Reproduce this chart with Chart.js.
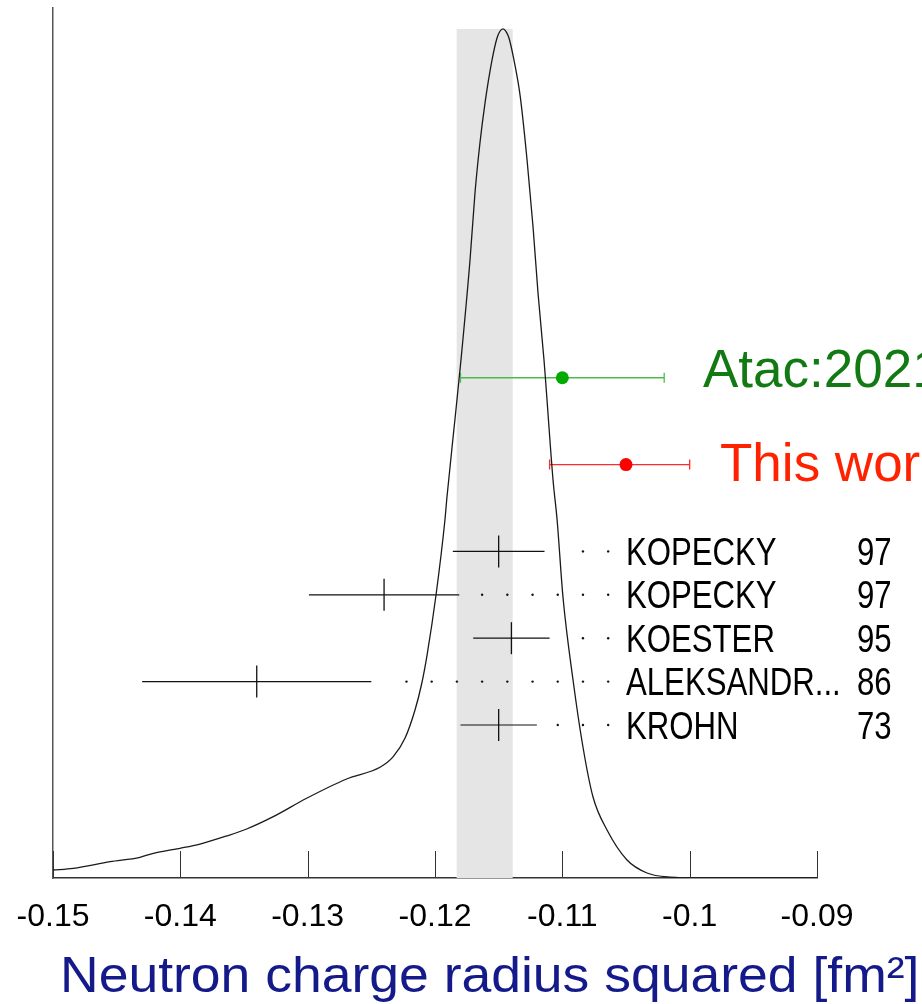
<!DOCTYPE html>
<html><head><meta charset="utf-8">
<script src="https://cdn.jsdelivr.net/npm/chart.js@4.4.1/dist/chart.umd.min.js"></script>
<style>html,body{margin:0;padding:0;background:#fff;overflow:hidden}#wrap{width:922px;height:1004px}</style>
</head><body><div id="wrap"><canvas id="c" width="922" height="1004"></canvas></div>
<script>
// ---- data ----
const xTicks = [-0.15, -0.14, -0.13, -0.12, -0.11, -0.1, -0.09];
const xTickLabels = ['-0.15', '-0.14', '-0.13', '-0.12', '-0.11', '-0.1', '-0.09'];
const axisTitle = 'Neutron charge radius squared [fm\u00B2]';

const curveX = [-0.15, -0.14841, -0.14552, -0.14317, -0.14212, -0.14003, -0.13846, -0.13636, -0.13479, -0.1327,
  -0.13008, -0.12694, -0.12432, -0.12328, -0.12236, -0.12157, -0.12105, -0.12063, -0.11992, -0.11922,
  -0.11906, -0.11843, -0.11796, -0.11725, -0.11686, -0.11647, -0.11607, -0.11552, -0.11513,
  -0.1149, -0.11466, -0.11443, -0.11419, -0.1138, -0.11332, -0.11277, -0.1123, -0.11191,
  -0.11144, -0.11073, -0.11041, -0.10995, -0.10916, -0.10838, -0.10759, -0.10649, -0.10492, -0.10335,
  -0.10155, -0.0992, -0.09];
const curveY = [0.0094, 0.0114, 0.0192, 0.0244, 0.0291, 0.035, 0.040, 0.0495, 0.0577, 0.0722,
  0.0939, 0.1166, 0.1304, 0.1429, 0.1645, 0.1979, 0.2285, 0.262, 0.3333, 0.4217,
  0.4488, 0.5406, 0.6101, 0.7279, 0.8068, 0.8657, 0.913, 0.9635, 0.9894,
  0.9973, 1.0, 0.9973, 0.9894, 0.9635, 0.9220, 0.8457, 0.7668, 0.689,
  0.6101, 0.4688, 0.4217, 0.331, 0.2332, 0.1543, 0.0954, 0.0565, 0.0212, 0.0059,
  0.001, 0.0, 0.0];

const bandLow = -0.1183;
const bandHigh = -0.1139;
const bandTop = 1.0;

const measNames = ['KOPECKY', 'KOPECKY', 'KOESTER', 'ALEKSANDR...', 'KROHN'];
const measYears = ['97', '97', '95', '86', '73'];
const measValues = [-0.115, -0.124, -0.114, -0.134, -0.115];
const measErrors = [0.0036, 0.0059, 0.003, 0.009, 0.003];
const measRows = [4, 3, 2, 1, 0];

const extraNames = ['Atac:2021', 'This work'];
const extraValues = [-0.110, -0.105];
const extraErrLow = [0.008, 0.006];
const extraErrHigh = [0.008, 0.005];
const extraRows = [8, 6];

const dotEnd = -0.1064;
const dotStep = 0.00198;
const dotGap = 0.0013;

// ---- drawing ----
const FONT = '"Liberation Sans", Arial, Helvetica, sans-serif';
const extraStyle = [
  {text: '#137a13', point: '#00aa00', bar: '#4cbb4c', labelX: 703, dy: 9},
  {text: '#ff2200', point: '#ff0000', bar: '#ff2a2a', labelX: 720, dy: 16}
];

const decor = {
  id: 'decor',
  beforeDatasetsDraw(chart) {
    const {ctx, chartArea, scales} = chart;
    const x = scales.x, y = scales.y, r = scales.rows;
    ctx.save();
    ctx.fillStyle = '#e5e5e5';
    const bx0 = x.getPixelForValue(bandLow), bx1 = x.getPixelForValue(bandHigh);
    const by = y.getPixelForValue(bandTop);
    ctx.fillRect(bx0, by, bx1 - bx0, chartArea.bottom - by);
    ctx.strokeStyle = '#333';
    ctx.lineWidth = 1;
    xTicks.forEach(v => {
      const px = Math.round(x.getPixelForValue(v)) + 0.5;
      ctx.beginPath();
      ctx.moveTo(px, chartArea.bottom);
      ctx.lineTo(px, chartArea.bottom - 27);
      ctx.stroke();
    });
    ctx.strokeStyle = '#111';
    ctx.lineWidth = 1.2;
    ctx.fillStyle = '#111';
    measValues.forEach((v, i) => {
      const py = r.getPixelForValue(measRows[i]);
      const lo = v - measErrors[i], hi = v + measErrors[i];
      ctx.beginPath();
      ctx.moveTo(x.getPixelForValue(lo), py);
      ctx.lineTo(x.getPixelForValue(hi), py);
      ctx.stroke();
      for (let d = dotEnd; d > hi + dotGap; d -= dotStep) {
        ctx.beginPath();
        ctx.arc(x.getPixelForValue(d), py, 1.2, 0, Math.PI * 2);
        ctx.fill();
      }
    });
    extraValues.forEach((v, i) => {
      const py = r.getPixelForValue(extraRows[i]);
      const x0 = x.getPixelForValue(v - extraErrLow[i]);
      const x1 = x.getPixelForValue(v + extraErrHigh[i]);
      ctx.strokeStyle = extraStyle[i].bar;
      ctx.lineWidth = 1.3;
      ctx.beginPath();
      ctx.moveTo(x0, py); ctx.lineTo(x1, py);
      ctx.moveTo(x0, py - 5); ctx.lineTo(x0, py + 5);
      ctx.moveTo(x1, py - 5); ctx.lineTo(x1, py + 5);
      ctx.stroke();
    });
    ctx.restore();
  },
  afterDraw(chart) {
    const {ctx, scales} = chart;
    const r = scales.rows;
    ctx.save();
    ctx.textBaseline = 'alphabetic';
    ctx.textAlign = 'left';
    ctx.fillStyle = '#000';
    ctx.font = '38px ' + FONT;
    measNames.forEach((n, i) => {
      const py = r.getPixelForValue(measRows[i]) + 13.5;
      ctx.save(); ctx.translate(626, py); ctx.scale(0.82, 1); ctx.fillText(n, 0, 0); ctx.restore();
      ctx.save(); ctx.translate(857, py); ctx.scale(0.82, 1); ctx.fillText(measYears[i], 0, 0); ctx.restore();
    });
    ctx.font = '53px ' + FONT;
    extraNames.forEach((n, i) => {
      const py = r.getPixelForValue(extraRows[i]) + extraStyle[i].dy;
      ctx.fillStyle = extraStyle[i].text;
      ctx.fillText(n, extraStyle[i].labelX, py);
    });
    ctx.fillStyle = '#141a8a';
    ctx.font = '50px ' + FONT;
    ctx.save(); ctx.translate(60, 992); ctx.scale(1.07, 1); ctx.fillText(axisTitle, 0, 0); ctx.restore();
    ctx.restore();
  }
};

new Chart(document.getElementById('c'), {
  type: 'scatter',
  data: {
    datasets: [
      {
        label: 'extra',
        data: extraValues.map((v, i) => ({x: v, y: extraRows[i]})),
        yAxisID: 'rows',
        pointStyle: 'circle',
        pointRadius: 6.5,
        pointBackgroundColor: extraStyle.map(s => s.point),
        pointBorderColor: extraStyle.map(s => s.point),
        pointBorderWidth: 0
      },
      {
        label: 'measurements',
        data: measValues.map((v, i) => ({x: v, y: measRows[i]})),
        yAxisID: 'rows',
        pointStyle: 'line',
        rotation: 90,
        pointRadius: 16,
        pointBorderColor: '#111',
        pointBorderWidth: 1.3
      },
      {
        label: 'pdf',
        type: 'line',
        data: curveX.map((v, i) => ({x: v, y: curveY[i]})),
        yAxisID: 'y',
        borderColor: '#1a1a1a',
        borderWidth: 1.3,
        pointRadius: 0,
        fill: false,
        cubicInterpolationMode: 'monotone'
      }
    ]
  },
  options: {
    responsive: false,
    animation: false,
    devicePixelRatio: 1,
    layout: {autoPadding: false, padding: {left: 53, right: 105, top: 8, bottom: 0}},
    plugins: {legend: {display: false}, tooltip: {enabled: false}},
    scales: {
      x: {
        type: 'linear',
        min: -0.15, max: -0.09,
        afterBuildTicks: s => { s.ticks = xTicks.map(v => ({value: v})); },
        afterFit: s => { s.height = 126; s.paddingLeft = 0; s.paddingRight = 0; },
        grid: {display: false, drawTicks: false},
        border: {display: true, color: '#333', width: 1.5},
        ticks: {
          padding: 20,
          color: '#000',
          font: {size: 32, family: FONT},
          maxRotation: 0,
          autoSkip: false,
          callback: (val, idx) => xTickLabels[idx]
        }
      },
      y: {
        type: 'linear',
        position: 'left',
        min: 0, max: 1.0247,
        afterFit: s => { s.width = 0; s.paddingTop = 0; s.paddingBottom = 0; },
        grid: {display: false, drawTicks: false},
        border: {display: true, color: '#555', width: 1.5},
        ticks: {display: false}
      },
      rows: {
        type: 'linear',
        position: 'left',
        min: -3.524, max: 16.517,
        display: false
      }
    }
  },
  plugins: [decor]
});
</script>
</body></html>
